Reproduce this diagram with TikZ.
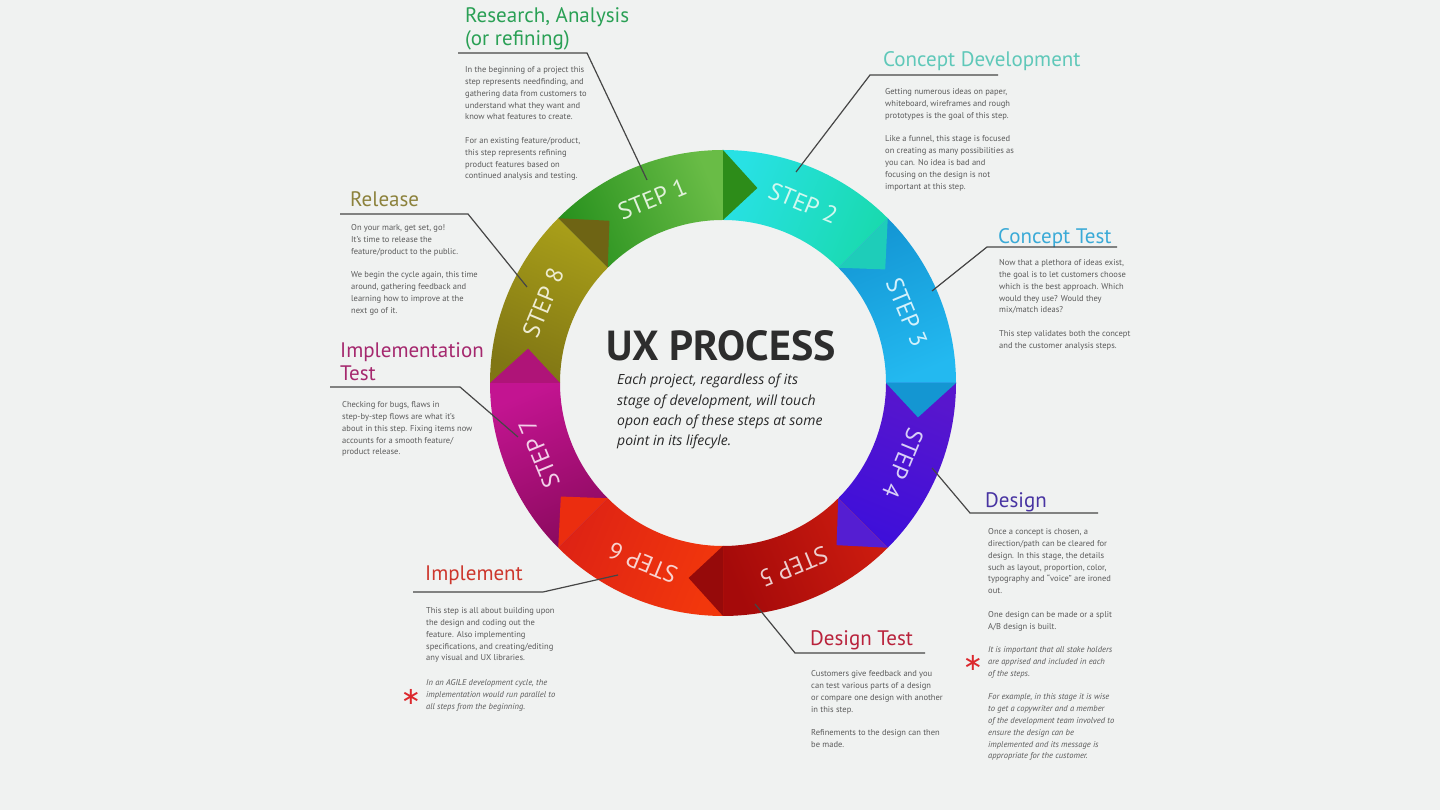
\documentclass[tikz,border=0pt]{standalone}
\usepackage{fontspec}
\usepackage{xcolor}
\usepackage{tikz}
\setmainfont{PT Sans}
\newfontfamily\handfont{Open Sans}
\newfontfamily\symfont{DejaVu Sans}

\definecolor{bg}{RGB}{240,242,241}
\definecolor{bodygray}{RGB}{90,90,90}
\definecolor{leadgray}{RGB}{70,70,70}
\definecolor{astred}{RGB}{220,40,45}
% segment colours: a = start, b = end, t = arrow tip
\definecolor{s1a}{RGB}{40,145,30}   \definecolor{s1b}{RGB}{105,188,70}  \definecolor{s1t}{RGB}{45,140,25}
\definecolor{s2a}{RGB}{40,225,228}  \definecolor{s2b}{RGB}{25,218,175}  \definecolor{s2t}{RGB}{30,205,185}
\definecolor{s3a}{RGB}{20,150,212}  \definecolor{s3b}{RGB}{35,185,240}  \definecolor{s3t}{RGB}{20,150,210}
\definecolor{s4a}{RGB}{88,22,205}   \definecolor{s4b}{RGB}{62,15,218}   \definecolor{s4t}{RGB}{85,30,210}
\definecolor{s5a}{RGB}{205,28,15}   \definecolor{s5b}{RGB}{165,10,10}   \definecolor{s5t}{RGB}{150,10,10}
\definecolor{s6a}{RGB}{242,55,12}   \definecolor{s6b}{RGB}{222,35,20}   \definecolor{s6t}{RGB}{235,45,15}
\definecolor{s7a}{RGB}{140,10,95}   \definecolor{s7b}{RGB}{195,20,145}  \definecolor{s7t}{RGB}{175,20,120}
\definecolor{s8a}{RGB}{128,118,20}  \definecolor{s8b}{RGB}{168,158,25}  \definecolor{s8t}{RGB}{110,100,20}
% title colours
\definecolor{t1}{RGB}{42,160,85}
\definecolor{t2}{RGB}{95,200,185}
\definecolor{t3}{RGB}{58,170,215}
\definecolor{t4}{RGB}{72,52,162}
\definecolor{t5}{RGB}{185,35,60}
\definecolor{t6}{RGB}{205,55,45}
\definecolor{t7}{RGB}{165,40,110}
\definecolor{t8}{RGB}{140,130,60}

\begin{document}
\begin{tikzpicture}[x=1pt, y=1pt,
  ttl/.style={anchor=north west, inner sep=0pt, align=left, font=\fontsize{21}{23}\selectfont},
  body/.style={anchor=north west, inner sep=0pt, align=left, text=bodygray, font=\fontsize{8.5}{11.8}\selectfont},
  note/.style={body, font=\fontsize{8.5}{11.8}\selectfont\itshape},
  leader/.style={draw=leadgray, line width=1.2pt},
  steplbl/.style={inner sep=0pt, font=\fontsize{24}{24}\selectfont},
  astx/.style={inner sep=0pt, text=astred, font=\symfont\fontsize{24}{24}\selectfont}]
  \fill[bg] (0,0) rectangle (1440,810);
  \useasboundingbox (0,0) rectangle (1440,810);

  % the ring
  \begin{scope}[shift={(723,427)}]
    \shade[bottom color=s1a, top color=s1b, shading angle=-67.5] (135:233) arc[start angle=135, end angle=90, radius=233] -- (90:163) arc[start angle=90, end angle=135, radius=163] -- cycle;
    \shade[bottom color=s2a, top color=s2b, shading angle=-112.5] (90:233) arc[start angle=90, end angle=45, radius=233] -- (45:163) arc[start angle=45, end angle=90, radius=163] -- cycle;
    \shade[bottom color=s3a, top color=s3b, shading angle=-157.5] (45:233) arc[start angle=45, end angle=0, radius=233] -- (0:163) arc[start angle=0, end angle=45, radius=163] -- cycle;
    \shade[bottom color=s4a, top color=s4b, shading angle=-202.5] (0:233) arc[start angle=0, end angle=-45, radius=233] -- (-45:163) arc[start angle=-45, end angle=0, radius=163] -- cycle;
    \shade[bottom color=s5a, top color=s5b, shading angle=-247.5] (-45:233) arc[start angle=-45, end angle=-90, radius=233] -- (-90:163) arc[start angle=-90, end angle=-45, radius=163] -- cycle;
    \shade[bottom color=s6a, top color=s6b, shading angle=-292.5] (-90:233) arc[start angle=-90, end angle=-135, radius=233] -- (-135:163) arc[start angle=-135, end angle=-90, radius=163] -- cycle;
    \shade[bottom color=s7a, top color=s7b, shading angle=-337.5] (-135:233) arc[start angle=-135, end angle=-180, radius=233] -- (-180:163) arc[start angle=-180, end angle=-135, radius=163] -- cycle;
    \shade[bottom color=s8a, top color=s8b, shading angle=-22.5] (180:233) arc[start angle=180, end angle=135, radius=233] -- (135:163) arc[start angle=135, end angle=180, radius=163] -- cycle;
    % arrow tips
    \fill[s1t] (90:233) -- (80:198) -- (90:163) -- cycle;
    \fill[s2t] (45:233) -- (35:198) -- (45:163) -- cycle;
    \fill[s3t] (0:233) -- (-10:198) -- (0:163) -- cycle;
    \fill[s4t] (-45:233) -- (-55:198) -- (-45:163) -- cycle;
    \fill[s5t] (-90:233) -- (-100:198) -- (-90:163) -- cycle;
    \fill[s6t] (-135:233) -- (-145:198) -- (-135:163) -- cycle;
    \fill[s7t] (180:233) -- (170:198) -- (180:163) -- cycle;
    \fill[s8t] (135:233) -- (125:198) -- (135:163) -- cycle;
    % step labels
    \node[steplbl, text=white!80!s1b, rotate=22.5] (st1) at (111:197) {STEP 1};
    \node[steplbl, text=white!80!s2b, rotate=-22.5] (st2) at (66:197) {STEP 2};
    \node[steplbl, text=white!80!s3b, rotate=-67.5] (st3) at (21:197) {STEP 3};
    \node[steplbl, text=white!80!s4b, rotate=-112.5] (st4) at (-24:197) {STEP 4};
    \node[steplbl, text=white!80!s5b, rotate=-157.5] (st5) at (-69:197) {STEP 5};
    \node[steplbl, text=white!80!s6b, rotate=-202.5] (st6) at (-114:197) {STEP 6};
    \node[steplbl, text=white!80!s7b, rotate=-247.5] (st7) at (-159:197) {STEP 7};
    \node[steplbl, text=white!80!s8b, rotate=67.5] (st8) at (156:197) {STEP 8};
  \end{scope}

  % centre
  \node[inner sep=0pt, text={rgb,255:red,45;green,45;blue,45}, font=\fontsize{42}{42}\selectfont\bfseries] (uxtitle) at (721,464) {UX PROCESS};
  \node[anchor=north west, inner sep=0pt, align=left, text={rgb,255:red,40;green,40;blue,40}, font=\handfont\itshape\fontsize{14}{20.3}\selectfont] (uxnote) at (617,436)
    {Each project, regardless of its\\stage of development, will touch\\opon each of these steps at some\\point in its lifecyle.};

  % step 1
  \node[ttl, text=t1] (ttl1) at (465,803) {Research, Analysis\\(or refining)};
  \coordinate (l1a) at (458,757);
  \coordinate (l1b) at (587,757);
  \coordinate (l1c) at (647,630);
  \draw[leader] (l1a) -- (l1b) -- (l1c);
  \node[body] (txt1) at (465,743.5) {In the beginning of a project this\\step represents needfinding, and\\gathering data from customers to\\understand what they want and\\know what features to create.\\[11.8pt]For an existing feature/product,\\this step represents refining\\product features based on\\continued analysis and testing.};

  % step 2
  \node[ttl, text=t2] (ttl2) at (883,759) {Concept Development};
  \coordinate (l2a) at (998,735);
  \coordinate (l2b) at (870,735);
  \coordinate (l2c) at (796,638);
  \draw[leader] (l2a) -- (l2b) -- (l2c);
  \node[body] (txt2) at (885,721.5) {Getting numerous ideas on paper,\\whiteboard, wireframes and rough\\prototypes is the goal of this step.\\[11.8pt]Like a funnel, this stage is focused\\on creating as many possibilities as\\you can. No idea is bad and\\focusing on the design is not\\important at this step.};

  % step 3
  \node[ttl, text=t3] (ttl3) at (998,582) {Concept Test};
  \coordinate (l3a) at (1117,563);
  \coordinate (l3b) at (987,563);
  \coordinate (l3c) at (932,519);
  \draw[leader] (l3a) -- (l3b) -- (l3c);
  \node[body] (txt3) at (999,550.5) {Now that a plethora of ideas exist,\\the goal is to let customers choose\\which is the best approach. Which\\would they use? Would they\\mix/match ideas?\\[11.8pt]This step validates both the concept\\and the customer analysis steps.};

  % step 4
  \node[ttl, text=t4] (ttl4) at (985,318) {Design};
  \coordinate (l4a) at (1098,297);
  \coordinate (l4b) at (970,297);
  \coordinate (l4c) at (932,342);
  \draw[leader] (l4a) -- (l4b) -- (l4c);
  \node[body] (txt4) at (988,281.5) {Once a concept is chosen, a\\direction/path can be cleared for\\design. In this stage, the details\\such as layout, proportion, color,\\typography and ``voice'' are ironed\\out.\\[11.8pt]One design can be made or a split\\A/B design is built.};
  \node[note] (nte4) at (988,163.5) {It is important that all stake holders\\are apprised and included in each\\of the steps.\\[11.8pt]For example, in this stage it is wise\\to get a copywriter and a member\\of the development team involved to\\ensure the design can be\\implemented and its message is\\appropriate for the customer.};
  \node[astx] (ast4) at (973,147) {∗};

  % step 5
  \node[ttl, text=t5] (ttl5) at (810,180) {Design Test};
  \coordinate (l5a) at (925,157);
  \coordinate (l5b) at (795,157);
  \coordinate (l5c) at (755,206);
  \draw[leader] (l5a) -- (l5b) -- (l5c);
  \node[body] (txt5) at (811,139.5) {Customers give feedback and you\\can test various parts of a design\\or compare one design with another\\in this step.\\[11.8pt]Refinements to the design can then\\be made.};

  % step 6
  \node[ttl, text=t6] (ttl6) at (425,244) {Implement};
  \coordinate (l6a) at (413,218);
  \coordinate (l6b) at (543,218);
  \coordinate (l6c) at (618,235);
  \draw[leader] (l6a) -- (l6b) -- (l6c);
  \node[body] (txt6) at (426,202.5) {This step is all about building upon\\the design and coding out the\\feature. Also implementing\\specifications, and creating/editing\\any visual and UX libraries.};
  \node[note] (nte6) at (426,130.5) {In an AGILE development cycle, the\\implementation would run parallel to\\all steps from the beginning.};
  \node[astx] (ast6) at (411,113) {∗};

  % step 7
  \node[ttl, text=t7] (ttl7) at (340,468) {Implementation\\Test};
  \coordinate (l7a) at (330,423);
  \coordinate (l7b) at (460,423);
  \coordinate (l7c) at (518,373);
  \draw[leader] (l7a) -- (l7b) -- (l7c);
  \node[body] (txt7) at (342,408.5) {Checking for bugs, flaws in\\step-by-step flows are what it's\\about in this step. Fixing items now\\accounts for a smooth feature/\\product release.};

  % step 8
  \node[ttl, text=t8] (ttl8) at (350,619) {Release};
  \coordinate (l8a) at (340,596);
  \coordinate (l8b) at (468,596);
  \coordinate (l8c) at (527,523);
  \draw[leader] (l8a) -- (l8b) -- (l8c);
  \node[body] (txt8) at (351,585.5) {On your mark, get set, go!\\It's time to release the\\feature/product to the public.\\[11.8pt]We begin the cycle again, this time\\around, gathering feedback and\\learning how to improve at the\\next go of it.};
\end{tikzpicture}
\end{document}
